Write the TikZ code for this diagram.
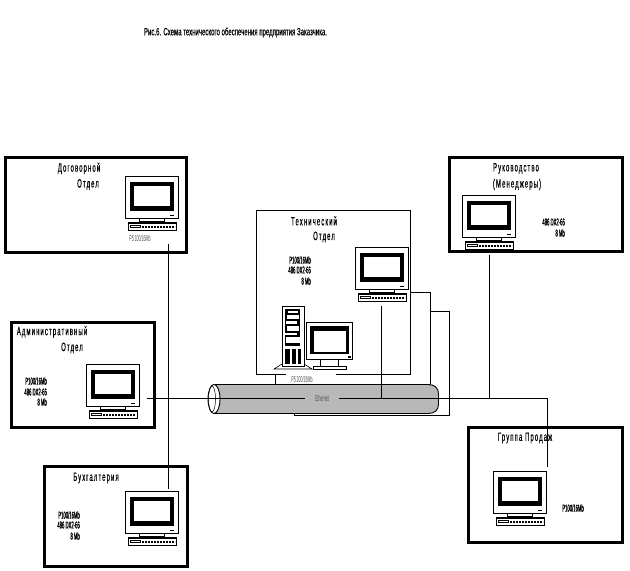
\documentclass[tikz,border=0pt]{standalone}
\usepackage{fontspec}
\setmainfont{Liberation Sans}
\newfontfamily\narrowf[FakeStretch=0.5,LetterSpace=9,FakeBold=0.3]{Liberation Sans}
\newfontfamily\tightf[FakeStretch=0.42,FakeBold=0.8]{Liberation Sans}
\newfontfamily\grayf[FakeStretch=0.42]{Liberation Sans}
\newfontfamily\titlef[FakeStretch=0.575,FakeBold=0.3]{Liberation Sans}
\tikzset{
 x=1pt,y=-1pt,
 thickbox/.style={draw=black,fill=white,line width=3pt,anchor=north west,inner sep=0pt,outer sep=0pt},
 thinbox/.style={draw=black,fill=white,line width=1pt,anchor=north west,inner sep=0pt,outer sep=0pt},
 wire/.style={draw=black,line width=.9pt},
 deptlabel/.style={font=\narrowf\fontsize{12}{12}\selectfont,inner sep=0pt,text=black},
 speclabel/.style={font=\tightf\fontsize{10}{10}\selectfont,inner sep=0pt,text=black,align=center},
 graylabel/.style={font=\grayf\fontsize{8.5}{8.5}\selectfont,inner sep=0pt,text=black!70},
 monitor/.pic={
  \draw[fill=white,line width=.8pt] (0,0) rectangle (53,42);
  \fill[black] (5,6) rectangle (49,35);
  \fill[white] (9,10) rectangle (45,30);
  \fill[black] (45,39) rectangle (49,40);
  \draw[fill=white,line width=.7pt] (14,42) rectangle (39,45);
  \draw[fill=white,line width=.8pt] (3,46) rectangle (51,54);
  \fill[black] (3,46) rectangle (51,48);
  \fill[black] (5,49) rectangle (16,52);
  \draw[white,line width=.5pt] (6,50) -- (15,50);
  \draw[black,line width=1.4pt,dash pattern=on 2pt off 1pt] (17,51) -- (50,51);
 },
 deskmonitor/.pic={
  \draw[fill=white,line width=.8pt] (0,0) rectangle (46,37);
  \fill[black] (4,4) rectangle (43,32);
  \fill[white] (8,9) rectangle (40,30);
  \fill[black] (42,34) rectangle (45,36);
  \draw[fill=white,line width=.7pt] (14,37) rectangle (32,44);
  \draw[fill=white,line width=.7pt] (7,44) rectangle (40,47);
 },
 towerpc/.pic={
  \draw[fill=white,line width=.6pt] (-8,63) -- (0,58) -- (22,58) -- (30,63) -- cycle;
  \draw[fill=white,line width=.9pt] (0,0) rectangle (22,60);
  \fill[black] (3,3) rectangle (18,40);
  \fill[white] (6,5) rectangle (16,7);
  \fill[white] (5,9) rectangle (17,13);
  \fill[white] (4,15) rectangle (15,18);
  \fill[white] (5,20) rectangle (17,25);
  \fill[white] (4,31) rectangle (18,37);
  \fill[white] (3,27) rectangle (15,29);
  \fill[black] (3,43) rectangle (8,58);
  \fill[black] (10,43) rectangle (14,58);
  \fill[black] (16,43) rectangle (19,58);
 }
}
\begin{document}
\begin{tikzpicture}
\useasboundingbox[fill=white] (0,0) rectangle (630,571);

% title
\node[font=\titlef\fontsize{10.5}{10.5}\selectfont,inner sep=0pt] (title) at (235.5,32.5) {Рис.6. Схема технического обеспечения предприятия Заказчика.};

% department boxes
\node[thickbox,minimum width=181pt,minimum height=95pt] (dog) at (5,157) {};
\node[thickbox,minimum width=173pt,minimum height=94pt] (ruk) at (449.5,157) {};
\node[thinbox,minimum width=154pt,minimum height=164pt] (tech) at (256.5,210) {};
\node[thickbox,minimum width=143pt,minimum height=105pt] (adm) at (11,322) {};
\node[thickbox,minimum width=143pt,minimum height=100pt] (buh) at (44,466) {};
\node[thickbox,minimum width=154pt,minimum height=115pt] (sales) at (468.5,427.5) {};

% cable body
\fill[black!28] (214,384.5) -- (428,384.5) .. controls (435,384.5) and (438.5,388) .. (438.5,394) -- (438.5,404) .. controls (438.5,410) and (435,413.5) .. (428,413.5) -- (214,413.5) -- cycle;
\draw[line width=.9pt] (214,384.5) -- (428,384.5) .. controls (435,384.5) and (438.5,388) .. (438.5,394) -- (438.5,404) .. controls (438.5,410) and (435,413.5) .. (428,413.5) -- (214,413.5);
\draw[fill=white,line width=.9pt] (214,399) ellipse [x radius=6,y radius=14.5];
\draw[line width=.5pt] (212,399) ellipse [x radius=3.5,y radius=13];

% coordinates for connector ends
\coordinate (dogdrop) at (168.5,244);
\coordinate (buhdrop) at (168.5,489);
\coordinate (admport) at (147,398.5);
\coordinate (etherL) at (305,398.5);
\coordinate (etherR) at (339,398.5);
\coordinate (salescorner) at (547,398.5);
\coordinate (salesdrop) at (547,467);
\coordinate (rukdrop) at (489,255);
\coordinate (rukbus) at (489,398.5);
\coordinate (techdrop) at (381.5,306);
\coordinate (techbus) at (381.5,398.5);
\coordinate (link1a) at (410,292);
\coordinate (link1b) at (430.5,292);
\coordinate (link1c) at (430.5,384.5);
\coordinate (link2a) at (430.5,311.5);
\coordinate (link2b) at (449.5,311.5);
\coordinate (link2c) at (449.5,415.5);
\coordinate (link2d) at (294,415.5);
\coordinate (link2e) at (294,413.5);
\coordinate (stubA) at (275.5,374);
\coordinate (stubB) at (275.5,384.5);

% computers
\pic at (125,176) {monitor};
\pic at (462,195) {monitor};
\pic at (355,247) {monitor};
\pic at (86,364) {monitor};
\pic at (125,491) {monitor};
\pic at (493,471) {monitor};
\pic at (282,306) {towerpc};
\pic at (306,322) {deskmonitor};

% gap in technical box edge for its label
\fill[white] (285.5,372) rectangle (336,376.5);

% connectors
\draw[wire] (dogdrop) -- (buhdrop);
\draw[wire] (admport) -- (etherL);
\draw[wire] (etherR) -- (salescorner) -- (salesdrop);
\draw[wire] (rukdrop) -- (rukbus);
\draw[wire] (techdrop) -- (techbus);
\draw[wire] (link1a) -- (link1b) -- (link1c);
\draw[wire] (link2a) -- (link2b) -- (link2c) -- (link2d) -- (link2e);
\draw[wire] (stubA) -- (stubB);

% labels
\node[deptlabel] (l1a) at (79,168.5) {Договорной};
\node[deptlabel] (l1b) at (88,184.5) {Отдел};
\node[graylabel] (l1c) at (140,238.5) {P5 100/16Mb};

\node[deptlabel] (l2a) at (516,168.5) {Руководство};
\node[deptlabel] (l2b) at (517,184.5) {(Менеджеры)};
\node[speclabel,anchor=east] (l2c) at (565,222) {486 DX2-66};
\node[speclabel,anchor=east] (l2d) at (565,233) {8 Mb};

\node[deptlabel] (l3a) at (314,221) {Технический};
\node[deptlabel] (l3b) at (324,237) {Отдел};
\node[speclabel,anchor=east] (l3c) at (311,260) {P100/16Mb};
\node[speclabel,anchor=east] (l3d) at (311,270) {486 DX2-66};
\node[speclabel,anchor=east] (l3e) at (311,281) {8 Mb};
\node[graylabel] (l3f) at (302,379) {P5 200/16Mb};
\node[graylabel] (eth) at (322,398.5) {Ethernet};

\node[deptlabel] (l4a) at (52,332) {Административный};
\node[deptlabel] (l4b) at (72,348) {Отдел};
\node[speclabel,anchor=east] (l4c) at (47,381) {P100/16Mb};
\node[speclabel,anchor=east] (l4d) at (47,392) {486 DX2-66};
\node[speclabel,anchor=east] (l4e) at (47,402) {8 Mb};

\node[deptlabel] (l5a) at (96,478) {Бухгалтерия};
\node[speclabel,anchor=east] (l5c) at (80,515) {P100/16Mb};
\node[speclabel,anchor=east] (l5d) at (80,525) {486 DX2-66};
\node[speclabel,anchor=east] (l5e) at (80,536) {8 Mb};

\node[deptlabel] (l6a) at (525,438) {Группа Продаж};
\node[speclabel,anchor=east] (l6c) at (584,508) {P100/16Mb};
\end{tikzpicture}
\end{document}
